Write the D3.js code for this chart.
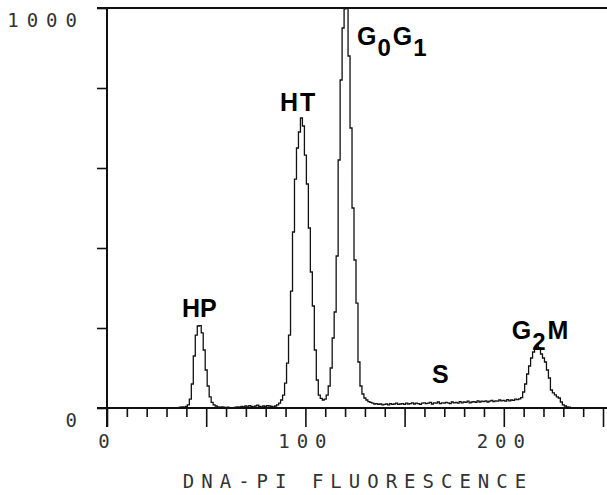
<!DOCTYPE html>
<html>
<head>
<meta charset="utf-8">
<script src="https://cdn.jsdelivr.net/npm/d3@7"></script>
<style>
  body { margin: 0; background: #fff; }
  svg { display: block; }
</style>
</head>
<body>
<div id="chart"></div>
<script>
// DNA content histogram (flow cytometry, propidium iodide)

// channel numbers 0..240, one count per channel
const channels = d3.range(0, 241);
const counts = [
  0, 0, 0, 0, 0, 0, 0, 0, 0, 0,
  0, 0, 0, 0, 0, 0, 0, 0, 0, 0,
  0, 0, 0, 0, 0, 0, 0, 0, 0, 0,
  0, 0, 0, 0, 0, 1, 0, 2, 3, 2,
  4, 8, 22, 60, 130, 182, 205, 206, 188, 145,
  95, 55, 28, 14, 8, 5, 3, 2, 3, 2,
  1, 2, 1, 0, 1, 2, 3, 2, 4, 3,
  5, 3, 6, 4, 3, 5, 7, 4, 3, 5,
  4, 6, 5, 4, 3, 5, 8, 12, 20, 32,
  62, 112, 182, 292, 440, 572, 650, 690, 725, 705,
  632, 560, 450, 340, 255, 145, 70, 32, 24, 20,
  22, 32, 55, 100, 175, 240, 380, 620, 820, 950,
  998, 1000, 880, 700, 500, 370, 262, 115, 55, 35,
  25, 20, 16, 14, 12, 10, 11, 9, 10, 8,
  9, 10, 8, 11, 9, 10, 12, 9, 10, 11,
  9, 12, 10, 11, 13, 10, 12, 11, 9, 12,
  13, 11, 12, 14, 10, 13, 12, 15, 11, 13,
  12, 14, 13, 11, 15, 13, 14, 12, 16, 13,
  15, 14, 17, 13, 15, 16, 14, 18, 15, 17,
  16, 18, 15, 17, 19, 16, 18, 17, 20, 18,
  19, 17, 21, 18, 20, 19, 22, 21, 23, 26,
  40, 60, 85, 105, 125, 140, 150, 155, 150, 135,
  125, 115, 95, 75, 45, 38, 33, 28, 25, 15,
  8, 5, 3, 2, 1, 0, 0, 0, 0, 0,
  0
];

const xTicks = d3.range(0, 251, 10);
const xTickLabels = [0, 100, 200];
const yTicks = [0, 200, 400, 600, 800, 1000];
const yTickLabels = [0, 1000];
const xTitle = "DNA-PI FLUORESCENCE";

// peak labels: pieces of text, flagged when subscript
const peakLabels = [
  { id: "HP", parts: [["HP", false]] },
  { id: "HT", parts: [["HT", false]] },
  { id: "G0G1", parts: [["G", false], ["0", true], ["G", false], ["1", true]] },
  { id: "S", parts: [["S", false]] },
  { id: "G2M", parts: [["G", false], ["2", true], ["M", false]] }
];

const width = 607;
const height = 495;

const svg = d3.select("#chart")
  .append("svg")
  .attr("width", width)
  .attr("height", height);

const x = d3.scaleLinear().domain([0, 250]).range([107, 603]);
const y = d3.scaleLinear().domain([0, 1000]).range([408, 8]);

const monoFont = "'DejaVu Sans Mono', monospace";

// x axis
const xAxis = svg.append("g")
  .attr("transform", `translate(0,${y(0)})`)
  .call(d3.axisBottom(x)
    .tickValues(xTicks)
    .tickSize(9)
    .tickFormat(d => xTickLabels.includes(d) ? d : ""));
xAxis.select(".domain").remove();
xAxis.selectAll(".tick line")
  .attr("y2", d => d % 50 === 0 ? 19 : 9)
  .attr("stroke", "#111")
  .attr("stroke-width", 1.6);
xAxis.selectAll(".tick text")
  .attr("y", 40)
  .attr("dy", null)
  .attr("font-family", monoFont)
  .attr("font-size", 19)
  .attr("letter-spacing", 7)
  .attr("fill", "#333");

// y axis
const yAxis = svg.append("g")
  .attr("transform", `translate(${x(0)},0)`)
  .call(d3.axisLeft(y)
    .tickValues(yTicks)
    .tickSize(10)
    .tickFormat(d => yTickLabels.includes(d) ? d : ""));
yAxis.select(".domain").remove();
yAxis.selectAll(".tick line")
  .attr("stroke", "#111")
  .attr("stroke-width", 1.6);
yAxis.selectAll(".tick text")
  .attr("x", -22)
  .attr("dy", 18)
  .attr("font-family", monoFont)
  .attr("font-size", 19)
  .attr("letter-spacing", 8)
  .attr("fill", "#333");

// axis lines
svg.append("line")
  .attr("x1", x(0)).attr("x2", x(0))
  .attr("y1", y(1000)).attr("y2", y(0) + 19)
  .attr("stroke", "#111").attr("stroke-width", 2);
svg.append("line")
  .attr("x1", x(0) - 10).attr("x2", width)
  .attr("y1", y(0)).attr("y2", y(0))
  .attr("stroke", "#111").attr("stroke-width", 1.8);
svg.append("line")
  .attr("x1", x(0) - 10).attr("x2", width)
  .attr("y1", y(1000)).attr("y2", y(1000))
  .attr("stroke", "#111").attr("stroke-width", 1.8);

// histogram trace
const line = d3.line()
  .x((d, i) => x(channels[i]))
  .y(d => y(d))
  .curve(d3.curveStep);

svg.append("path")
  .datum(counts)
  .attr("d", line)
  .attr("fill", "none")
  .attr("stroke", "#111")
  .attr("stroke-width", 1.3);

// x axis title
svg.append("text")
  .attr("x", 358)
  .attr("y", 488)
  .attr("text-anchor", "middle")
  .attr("font-family", monoFont)
  .attr("font-size", 19)
  .attr("letter-spacing", 7)
  .attr("fill", "#333")
  .text(xTitle);

// peak labels, anchored in data units
const labelPos = {
  HP: [37.8, 228],
  HT: [87.2, 742],
  G0G1: [126, 907],
  S: [163.8, 63],
  G2M: [204, 173]
};

peakLabels.forEach(lab => {
  const [cx, cy] = labelPos[lab.id];
  const t = svg.append("text")
    .attr("x", x(cx))
    .attr("y", y(cy))
    .attr("font-family", "'Liberation Sans', Arial, sans-serif")
    .attr("font-weight", "bold")
    .attr("font-size", 25)
    .attr("fill", "#000");
  let sub = false;
  lab.parts.forEach(([txt, isSub]) => {
    const ts = t.append("tspan").text(txt);
    if (isSub && !sub) { ts.attr("dy", 11).attr("dx", 1).attr("font-size", 24); sub = true; }
    else if (!isSub && sub) { ts.attr("dy", -11).attr("dx", 2); sub = false; }
    if (txt === "HT") ts.attr("letter-spacing", 2);
  });
});
</script>
</body>
</html>
